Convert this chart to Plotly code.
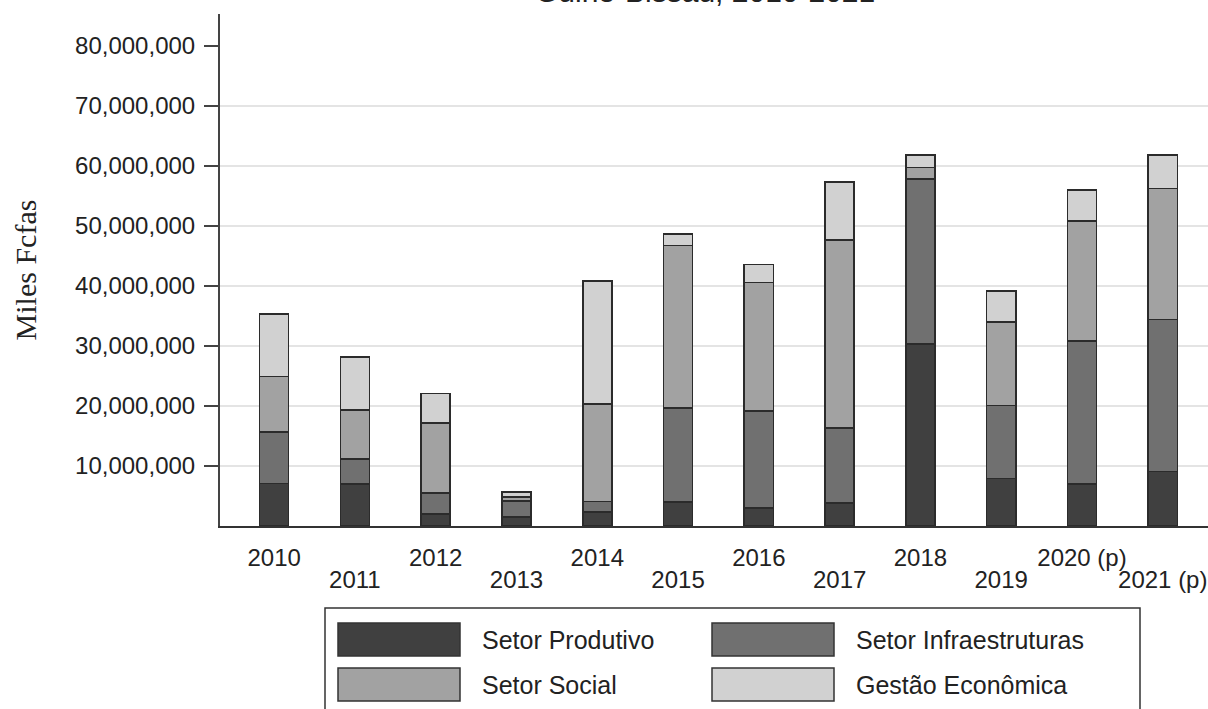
import plotly.graph_objects as go

# valores em milhões de Fcfas
years = ["2010", "2011", "2012", "2013", "2014", "2015", "2016", "2017",
         "2018", "2019", "2020 (p)", "2021 (p)"]
setor_produtivo = [7.1, 7.0, 2.0, 1.5, 2.3, 4.0, 3.0, 3.8, 30.3, 7.9, 6.95, 9.05]
setor_infra = [8.6, 4.2, 3.5, 2.7, 1.75, 15.7, 16.2, 12.5, 27.5, 12.15, 23.85, 25.35]
setor_social = [9.2, 8.1, 11.7, 0.6, 16.3, 27.0, 21.4, 31.3, 1.9, 13.95, 20.0, 21.8]
gestao_economica = [10.4, 8.9, 4.9, 0.9, 20.5, 1.9, 2.95, 9.7, 2.1, 5.2, 5.2, 5.6]

series_names = ["Setor Produtivo", "Setor Infraestruturas", "Setor Social", "Gestão Econômica"]
series_colors = ["#404040", "#707070", "#a2a2a2", "#d1d1d1"]
y_ticks = [10e6, 20e6, 30e6, 40e6, 50e6, 60e6, 70e6, 80e6]
grid_ticks = [10e6, 20e6, 30e6, 40e6, 50e6, 60e6, 70e6]

series = [setor_produtivo, setor_infra, setor_social, gestao_economica]
FONT = "Arial, Liberation Sans, sans-serif"

fig = go.Figure()
x_idx = list(range(len(years)))
for name, vals, color in zip(series_names, series, series_colors):
    fig.add_trace(go.Bar(
        x=x_idx,
        y=[v * 1e6 for v in vals],
        name=name,
        marker=dict(color=color, line=dict(color="#2b2b2b", width=1.6)),
        width=0.36,
        showlegend=False,
    ))

# traço invisível para ativar os eixos auxiliares (grade e rótulos ímpares)
fig.add_trace(go.Scatter(x=[None], y=[None], xaxis="x2", yaxis="y2",
                         showlegend=False, hoverinfo="skip"))

even_idx = [i for i in x_idx if i % 2 == 0]
odd_idx = [i for i in x_idx if i % 2 == 1]

fig.update_layout(
    barmode="stack",
    width=1208,
    height=709,
    margin=dict(l=220, r=0, t=14, b=183),
    plot_bgcolor="white",
    paper_bgcolor="white",
    font=dict(family=FONT, size=18, color="#222222"),
    xaxis=dict(
        range=[-0.67, 11.56],
        tickvals=even_idx,
        ticktext=[years[i] for i in even_idx],
        ticks="",
        ticklabelstandoff=9,
        showline=True,
        linecolor="#333333",
        linewidth=2,
        showgrid=False,
        zeroline=False,
        tickfont=dict(family=FONT, size=24, color="#222222"),
    ),
    xaxis2=dict(
        range=[-0.67, 11.56],
        overlaying="x",
        side="bottom",
        anchor="y",
        tickvals=odd_idx,
        ticktext=[years[i] for i in odd_idx],
        ticks="",
        ticklabelstandoff=37,
        showline=False,
        showgrid=False,
        zeroline=False,
        tickfont=dict(family=FONT, size=24, color="#222222"),
    ),
    yaxis=dict(
        range=[0, 85.3e6],
        tickvals=y_ticks,
        tickformat=",d",
        ticks="outside",
        ticklen=14,
        tickwidth=2,
        tickcolor="#444444",
        ticklabelstandoff=4,
        showline=True,
        linecolor="#444444",
        linewidth=2,
        showgrid=False,
        zeroline=False,
        tickfont=dict(family=FONT, size=24, color="#222222"),
        title=dict(text="Miles Fcfas", standoff=30,
                   font=dict(family="Liberation Serif, Times New Roman, serif",
                             size=30, color="#222222")),
    ),
    yaxis2=dict(
        range=[0, 85.3e6],
        overlaying="y",
        anchor="x",
        tickvals=grid_ticks,
        showticklabels=False,
        showgrid=True,
        gridcolor="#e4e4e4",
        gridwidth=2,
        zeroline=False,
        showline=False,
    ),
)

# título (cortado no topo como no original)
fig.add_annotation(
    text="Guiné-Bissau, 2010-2021", xref="paper", yref="paper",
    x=0.491, y=1.043, xanchor="center", yanchor="middle", showarrow=False,
    font=dict(family=FONT, size=30, color="#222222"),
)

# legenda desenhada à mão (caixas grandes como no original)
fig.add_shape(type="rect", xref="paper", yref="paper",
              x0=(325 - 220) / 988, x1=(1140 - 220) / 988,
              y0=(526 - 720) / 512, y1=(526 - 608) / 512,
              line=dict(color="#333333", width=1.5), fillcolor="white")
legend_pos = [(338, 623), (712, 623), (338, 668), (712, 668)]
for (lx, ly), name, color in zip(legend_pos, series_names, series_colors):
    fig.add_shape(type="rect", xref="paper", yref="paper",
                  x0=(lx - 220) / 988, x1=(lx + 122 - 220) / 988,
                  y0=(526 - ly - 33) / 512, y1=(526 - ly) / 512,
                  line=dict(color="#333333", width=1.5), fillcolor=color)
    fig.add_annotation(text=name, xref="paper", yref="paper",
                       x=(lx + 142 - 220) / 988, y=(526 - ly - 16.5) / 512,
                       xanchor="left", yanchor="middle", showarrow=False,
                       font=dict(family=FONT, size=25, color="#222222"))

# sem margem no body, para a figura ocupar a janela inteira
fig.write_html("out.html",
               config={"displayModeBar": False},
               post_script="document.body.style.margin='0px';"
                           "document.body.style.overflow='hidden';")
